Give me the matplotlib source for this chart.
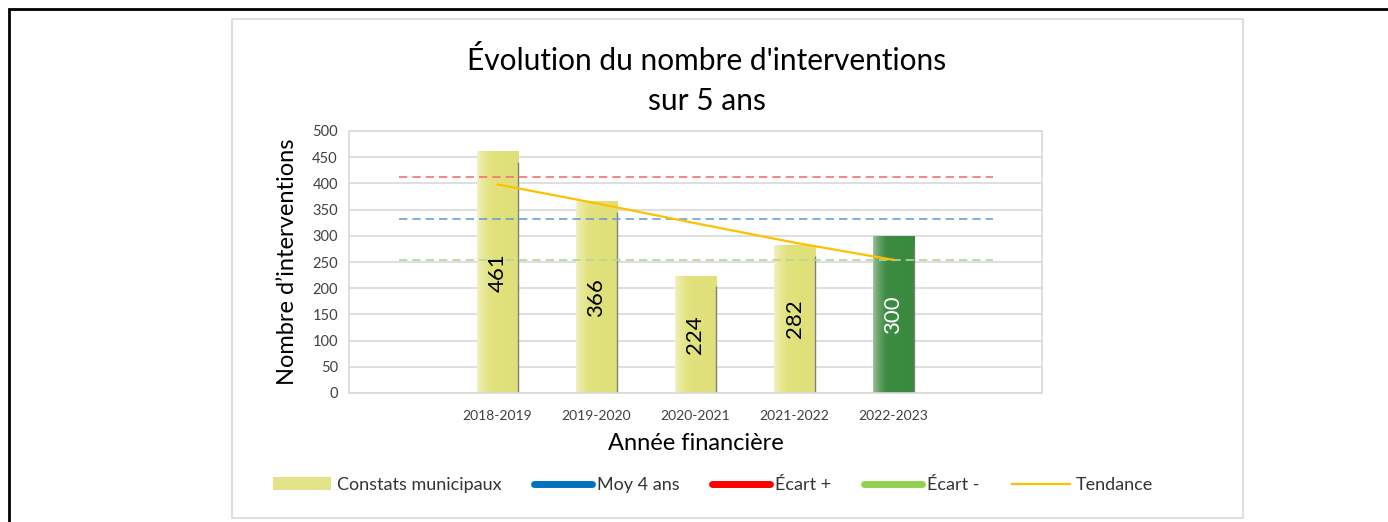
import matplotlib
matplotlib.use("Agg")
import matplotlib.pyplot as plt
import numpy as np
from matplotlib.colors import LinearSegmentedColormap
from matplotlib.lines import Line2D
from matplotlib.patches import Rectangle

plt.rcParams['font.family'] = ['Lato', 'DejaVu Sans']

# data
categories = ['', '2018-2019', '2019-2020', '2020-2021', '2021-2022', '2022-2023', '']
constats = [None, 461, 366, 224, 282, 300, None]
moy_4_ans = 333
ecart_plus = 412
ecart_moins = 254
tendance = [398, 362, 324, 287, 254]

fig = plt.figure(figsize=(13.88, 5.22), dpi=100)

# outer frame and chart box
fig.add_artist(Rectangle((9 / 1388, -0.1), 1.2, 1 - 9 / 522 + 0.1, transform=fig.transFigure,
                         fill=False, edgecolor='black', lw=2))
fig.add_artist(Rectangle((232 / 1388, 1 - 518 / 522), (1243 - 232) / 1388, (518 - 19) / 522,
                         transform=fig.transFigure, fill=False, edgecolor='#D9D9D9', lw=1.2))

ax = fig.add_axes([349 / 1388, 1 - 393 / 522, (1042 - 349) / 1388, (393 - 131) / 522])
x = np.arange(len(categories))
ax.yaxis.grid(True, color='#D9D9D9', lw=1.2)
ax.set_axisbelow(True)
for s in ax.spines.values():
    s.set_color('#D9D9D9')
    s.set_linewidth(1.2)
ax.tick_params(length=0, labelsize=10.5, colors='#404040')
ax.tick_params(axis='y', pad=8)
ax.set_xticks(x)
ax.set_xticklabels(categories, fontsize=10)
ax.tick_params(axis='x', pad=12)
ax.set_yticks(range(0, 501, 50))

yellow = LinearSegmentedColormap.from_list('y', ['#F3F3CC', '#E2E27E', '#E0E07A'])
green = LinearSegmentedColormap.from_list('g', ['#A9C9A3', '#3E8B44', '#378A3E'])
w = 0.42
grad = np.linspace(0, 1, 100).reshape(1, -1) ** 0.6
for i, v in enumerate(constats):
    if v is None:
        continue
    last = i == 5
    cmap = green if last else yellow
    rect = Rectangle((i - w / 2, 0), w, v, facecolor='none', edgecolor='none')
    ax.add_patch(rect)
    im = ax.imshow(grad, cmap=cmap, aspect='auto', extent=[i - w / 2, i + w / 2, 0, v],
                   zorder=2, interpolation='bilinear')
    im.set_clip_path(rect)
    ax.vlines(i + w / 2, 0, v - 20, color='#7F7F7F', lw=1, zorder=2)
    ax.text(i, v / 2, str(v), rotation=90, ha='center', va='center', fontsize=16,
            color='white' if last else 'black', zorder=4)
ax.set_aspect('auto')
ax.set_xlim(-0.5, len(categories) - 0.5)
ax.set_ylim(0, 500)

ax.hlines(ecart_plus, 0, 6, colors='#F4736E', linestyles=(0, (5, 3)), lw=1.2, zorder=3)
ax.hlines(moy_4_ans, 0, 6, colors='#6A9FD6', linestyles=(0, (5, 3)), lw=1.2, zorder=3)
ax.hlines(ecart_moins, 0, 6, colors='#B5D795', linestyles=(0, (5, 3)), lw=1.2, zorder=3)
ax.plot(x[1:6], tendance, color='#FFC000', lw=1.6, zorder=3)

ax.set_ylabel("Nombre d\u2019interventions", fontsize=17, labelpad=10)
ax.set_xlabel("Année financière", fontsize=17, labelpad=8)

fig.text(707 / 1388, 1 - 60 / 522, "Évolution du nombre d'interventions", ha='center',
         va='center', fontsize=21.5)
fig.text(707 / 1388, 1 - 101 / 522, "sur 5 ans", ha='center', va='center', fontsize=21.5)

handles = [
    Rectangle((0, 0), 1, 1, facecolor='#E3E38A', edgecolor='none'),
    Line2D([], [], color='#0070C0', lw=5, solid_capstyle='round'),
    Line2D([], [], color='#FF0000', lw=5, solid_capstyle='round'),
    Line2D([], [], color='#92D050', lw=5, solid_capstyle='round'),
    Line2D([], [], color='#FFC000', lw=1.6),
]
labels = ['Constats municipaux', 'Moy 4 ans', 'Écart +', 'Écart -', 'Tendance']
fig.legend(handles, labels, loc='center', bbox_to_anchor=(713 / 1388, 1 - 485 / 522),
           ncol=5, frameon=False, fontsize=13, handlelength=3.2, handletextpad=0.3,
           columnspacing=1.8, labelcolor='#333333')

fig.savefig('out.png', dpi=100)
